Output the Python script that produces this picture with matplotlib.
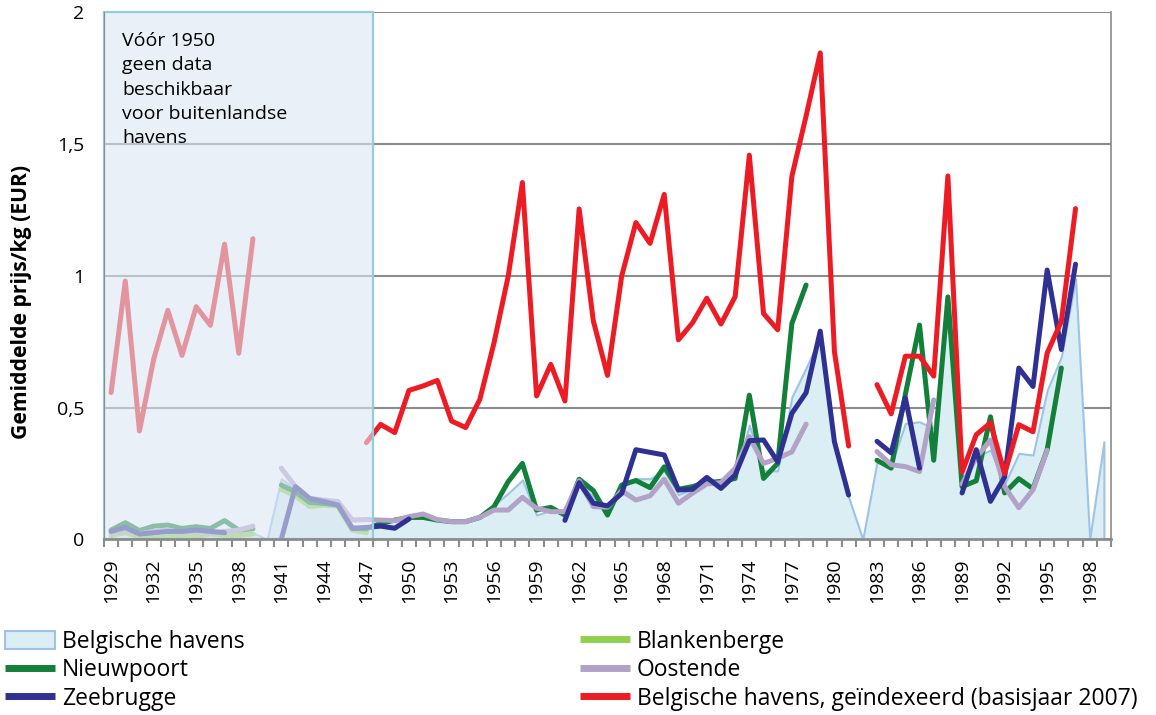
import numpy as np
import matplotlib
matplotlib.use("Agg")
import matplotlib.pyplot as plt
from matplotlib.patches import Rectangle, Patch
from matplotlib.lines import Line2D

nan = np.nan
years = list(range(1929, 2000))

belgische_havens = [
    0.02, 0.03, 0.015, 0.02, 0.025, 0.02, 0.025, 0.025, 0.03, 0.025, 0.025,
    0.0, 0.23, 0.19, 0.14, 0.14, 0.13, 0.045, 0.04, 0.06, 0.07,
    0.08, 0.085, 0.075, 0.067, 0.067, 0.083, 0.13, 0.175, 0.225, 0.092,
    0.11, 0.1, 0.22, 0.16, 0.11, 0.2, 0.23, 0.23, 0.26, 0.17,
    0.19, 0.21, 0.21, 0.24, 0.434, 0.26, 0.26, 0.54, 0.65, 0.77,
    0.36, 0.16, 0.0, 0.294, 0.28, 0.44, 0.446, 0.421, 0.85, 0.2,
    0.313, 0.339, 0.21, 0.326, 0.32, 0.566, 0.693, 0.99, 0.0, 0.37]

blankenberge = [
    0.015, 0.025, 0.01, 0.005, 0.01, 0.015, 0.01, 0.02, 0.015, 0.015, 0.02,
    nan, 0.19, 0.165, 0.125, 0.13, 0.125, 0.035, 0.025, nan, nan] + [nan] * 50

nieuwpoort = [
    0.035, 0.063, 0.033, 0.05, 0.054, 0.041, 0.048, 0.041, 0.071, 0.035, 0.04,
    nan, 0.206, 0.18, 0.14, 0.136, 0.13, 0.042, 0.04, 0.06, 0.073,
    0.083, 0.083, 0.073, 0.067, 0.067, 0.083, 0.124, 0.219, 0.288, 0.111,
    0.121, 0.092, 0.228, 0.185, 0.092, 0.206, 0.223, 0.196, 0.275, 0.19,
    0.2, 0.215, 0.22, 0.231, 0.547, 0.231, 0.288, 0.819, 0.965, nan,
    nan, nan, nan, 0.3, 0.27, 0.55, 0.813, 0.3, 0.92, 0.2,
    0.222, 0.465, 0.176, 0.23, 0.192, 0.34, 0.65, nan, nan, nan]

oostende = [
    0.025, 0.035, 0.02, 0.03, 0.035, 0.025, 0.03, 0.025, 0.03, 0.035, 0.05,
    nan, 0.27, 0.2, 0.155, 0.149, 0.143, 0.073, 0.075, 0.073, 0.071,
    0.086, 0.096, 0.075, 0.067, 0.067, 0.083, 0.111, 0.111, 0.159, 0.118,
    0.105, 0.105, 0.222, 0.124, 0.122, 0.184, 0.149, 0.165, 0.228, 0.137,
    0.175, 0.21, 0.215, 0.269, 0.389, 0.288, 0.307, 0.332, 0.437, nan,
    nan, nan, nan, 0.333, 0.283, 0.276, 0.257, 0.529, nan, 0.21,
    0.31, 0.377, 0.2, 0.12, 0.188, 0.338, nan, nan, nan, nan]

zeebrugge = [
    0.03, 0.045, 0.02, 0.025, 0.03, 0.03, 0.035, 0.03, 0.025, nan, nan,
    nan, 0.0, 0.2, 0.155, 0.143, 0.13, 0.042, 0.045, 0.05, 0.042,
    0.077, nan, nan, nan, nan, nan, nan, nan, nan, nan,
    nan, 0.072, 0.215, 0.137, 0.127, 0.174, 0.34, 0.33, 0.32, 0.187,
    0.19, 0.235, 0.193, 0.244, 0.374, 0.377, 0.294, 0.478, 0.556, 0.79,
    0.37, 0.168, nan, 0.372, 0.328, 0.537, 0.27, nan, nan, 0.176,
    0.34, 0.144, 0.236, 0.65, 0.58, 1.022, 0.72, 1.044, nan, nan]

geindexeerd = [
    0.557, 0.98, 0.411, 0.683, 0.869, 0.698, 0.883, 0.812, 1.12, 0.706, 1.141,
    nan, nan, nan, nan, nan, nan, nan, 0.367, 0.436, 0.405,
    0.565, 0.582, 0.603, 0.449, 0.424, 0.531, 0.746, 0.999, 1.354, 0.544,
    0.664, 0.525, 1.254, 0.829, 0.622, 0.999, 1.202, 1.123, 1.309, 0.757,
    0.822, 0.915, 0.817, 0.921, 1.458, 0.857, 0.795, 1.378, 1.606, 1.846,
    0.712, 0.354, nan, 0.587, 0.476, 0.695, 0.695, 0.619, 1.379, 0.255,
    0.397, 0.442, 0.249, 0.435, 0.408, 0.707, 0.827, 1.255, nan, nan]

series_names = ["Belgische havens", "Blankenberge", "Nieuwpoort", "Oostende",
                "Zeebrugge", "Belgische havens, geïndexeerd (basisjaar 2007)"]
ytick_vals = [0, 0.5, 1, 1.5, 2]
ytick_labels = ["0", "0,5", "1", "1,5", "2"]
label_years = years[::3]
note_text = "Vóór 1950\ngeen data\nbeschikbaar\nvoor buitenlandse\nhavens"

plt.rcParams['font.family'] = ['Open Sans', 'DejaVu Sans']
FS = 14
FS_LEG = 16.5

W, H = 1156, 715
fig = plt.figure(figsize=(W / 100, H / 100), dpi=100)
L, R, T, B = 104, 1111, 12.3, 539.3
ax = fig.add_axes([L / W, 1 - B / H, (R - L) / W, (B - T) / H])

n = len(years)
x = np.arange(n)
ax.set_xlim(-0.5, n - 0.5)
ax.set_ylim(0, 2)

grid_c = '#8c8c8c'
ax.set_axisbelow(True)
ax.yaxis.grid(True, color=grid_c, lw=1.5)
ax.set_yticks(ytick_vals)
ax.set_yticklabels(ytick_labels, fontsize=FS)
ax.tick_params(axis='y', length=0, pad=14)

ax.spines['top'].set_visible(False)
ax.spines['left'].set_color(grid_c)
ax.spines['right'].set_color(grid_c)
ax.spines['right'].set_linewidth(1.2)
ax.spines['bottom'].set_color(grid_c)
ax.spines['bottom'].set_linewidth(2)

ax.set_xticks(np.arange(-0.5, n, 1.0))
ax.set_xticklabels([])
ax.tick_params(axis='x', which='major', length=6, width=1.5, color=grid_c, direction='out')
lab_idx = [years.index(y) for y in label_years]
ax.set_xticks(lab_idx, minor=True)
ax.set_xticklabels([str(y) for y in label_years], minor=True, rotation=90, fontsize=FS)
ax.tick_params(axis='x', which='minor', length=0, pad=14)

area_fill = '#daeef3'
area_edge = '#9dc3e6'
bh = np.array(belgische_havens)
ax.fill_between(x, 0, bh, facecolor=area_fill, edgecolor=area_edge, lw=1.5, zorder=1.0)

LW = 3.6
colors = {
    'blank': '#92d050',
    'nieuw': '#138039',
    'oost': '#b3a2c7',
    'zee': '#2e3192',
    'red': '#ed1c24',
}
kw = dict(lw=LW, solid_capstyle='round', solid_joinstyle='round')
ax.plot(x, blankenberge, color=colors['blank'], zorder=1.1, **kw)
ax.plot(x, nieuwpoort, color=colors['nieuw'], zorder=1.2, **kw)
ax.plot(x, oostende, color=colors['oost'], zorder=1.3, **kw)
ax.plot(x, zeebrugge, color=colors['zee'], zorder=1.4, **kw)
ax.plot(x, geindexeerd, color=colors['red'], zorder=1.5, **kw)

# shaded "no data" region: 1929-1947
i0 = years.index(1929) - 0.5
i1 = years.index(1947) + 0.5
rect = Rectangle((i0, 0), i1 - i0, 2, facecolor=(220/255, 230/255, 242/255), alpha=0.6,
                 edgecolor='none', zorder=2.0)
ax.add_patch(rect)
rect2 = Rectangle((i0, 0), i1 - i0, 2, facecolor='none', edgecolor='#92cddc', lw=1.6,
                  zorder=2.1, clip_on=False)
ax.add_patch(rect2)
ax.text(i0 + 1.3, 1.925, note_text, fontsize=FS, va='top', ha='left', linespacing=1.45,
        zorder=3)

fig.text(22 / W, 1 - 302 / H, "Gemiddelde prijs/kg (EUR)", rotation=90, fontsize=15.2,
         fontweight='bold', ha='center', va='center')

h_area = Patch(facecolor=area_fill, edgecolor=area_edge, lw=1.5)
lk = dict(lw=5, solid_capstyle='butt')
h_bl = Line2D([], [], color=colors['blank'], **lk)
h_ni = Line2D([], [], color=colors['nieuw'], **lk)
h_oo = Line2D([], [], color=colors['oost'], **lk)
h_ze = Line2D([], [], color=colors['zee'], **lk)
h_re = Line2D([], [], color=colors['red'], **lk)

fs_px = FS_LEG * 100 / 72
legkw = dict(frameon=False, fontsize=FS_LEG, handlelength=50 / fs_px, handletextpad=7 / fs_px,
             labelspacing=0.19, borderpad=0, borderaxespad=0, loc='upper left',
             handleheight=0.85)
leg1 = fig.legend([h_area, h_ni, h_ze], [series_names[0], series_names[2], series_names[4]],
                  bbox_to_anchor=(5 / W, 1 - 630 / H), **legkw)
leg2 = fig.legend([h_bl, h_oo, h_re], [series_names[1], series_names[3], series_names[5]],
                  bbox_to_anchor=(580 / W, 1 - 630 / H), **legkw)

fig.savefig("out.png", dpi=100)
